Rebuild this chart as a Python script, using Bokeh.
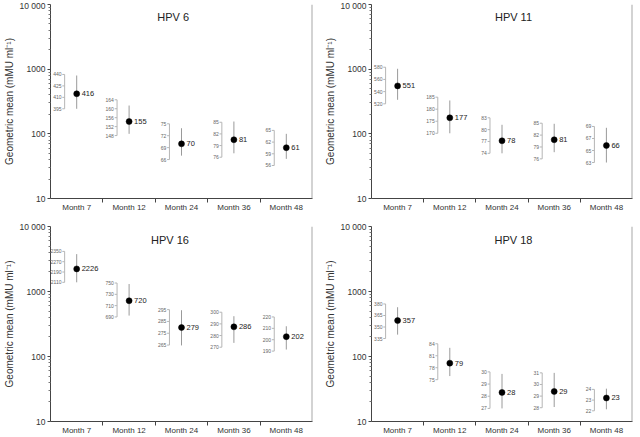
import numpy as np
from bokeh.plotting import figure
from bokeh.layouts import row, column
from bokeh.models import FixedTicker, Label, Span
from bokeh.embed import file_html
from bokeh.resources import INLINE
from bokeh.core.properties import value

FONT = "Liberation Sans"

months = ["Month 7", "Month 12", "Month 24", "Month 36", "Month 48"]
y_ticks = [10, 100, 1000, 10000]
y_tick_labels = ["10", "100", "1000", "10 000"]
y_label = "Geometric mean (mMU ml\u207b\u00b9)"

# HPV 6
hpv6_gmt = [416, 155, 70, 81, 61]
hpv6_low = [244, 100, 46, 50, 41]
hpv6_high = [798, 274, 122, 155, 100]
hpv6_scale_top = [828, 336, 143, 151, 113]
hpv6_scale_bottom = [244, 94, 40, 43.5, 32.4]
hpv6_scale_labels = [[440, 425, 410, 395], [164, 160, 156, 152, 148],
                     [75, 72, 69, 66], [85, 82, 79, 76], [65, 62, 59, 56]]

# HPV 11
hpv11_gmt = [551, 177, 78, 81, 66]
hpv11_low = [336, 102, 50, 52, 36]
hpv11_high = [1014, 328, 138, 143, 124]
hpv11_scale_top = [1072, 369, 177, 146, 130]
hpv11_scale_bottom = [291, 102, 50, 41, 36]
hpv11_scale_labels = [[580, 560, 540, 520], [185, 180, 175, 170],
                      [83, 80, 77, 74], [85, 82, 79, 76], [69, 67, 65, 63]]

# HPV 16
hpv16_gmt = [2226, 720, 279, 286, 202]
hpv16_low = [1384, 426, 148, 162, 128]
hpv16_high = [3758, 1303, 515, 417, 292]
hpv16_scale_top = [4140, 1350, 526, 480, 406]
hpv16_scale_bottom = [1384, 406, 150, 139, 121]
hpv16_scale_labels = [[2350, 2270, 2190, 2110], [750, 730, 710, 690],
                      [295, 285, 275, 265], [300, 290, 280, 270], [220, 210, 200, 190]]

# HPV 18
hpv18_gmt = [357, 79, 28, 29, 23]
hpv18_low = [217, 50, 15.9, 16.7, 15.4]
hpv18_high = [573, 136, 54, 56, 32]
hpv18_scale_top = [643, 157, 58, 56, 31.2]
hpv18_scale_bottom = [189, 44, 15.9, 16.3, 14.6]
hpv18_scale_labels = [[380, 365, 350, 335], [84, 81, 78, 75],
                      [30, 29, 28, 27], [31, 30, 29, 28], [24, 23, 22]]


def make_panel(title, gmt, low, high, s_top, s_bot, s_labels,
               width, height, bl, br, bt, bb, title_x):
    n = len(months)
    p = figure(width=width, height=height, y_axis_type="log",
               x_range=(0, n), y_range=(y_ticks[0], y_ticks[-1]),
               output_backend="svg", toolbar_location=None,
               min_border_left=bl, min_border_right=br,
               min_border_top=bt, min_border_bottom=bb)
    p.outline_line_color = None
    p.grid.visible = False
    p.background_fill_color = "white"

    xs = np.arange(n) + 0.5
    rx = xs - 0.23

    # mini scales
    p.segment(rx, s_bot, rx, s_top, line_color="#b5b5b5", line_width=1)
    tx, ty, tt = [], [], []
    for i in range(n):
        pos = np.geomspace(s_top[i], s_bot[i], len(s_labels[i]))
        for v, lab in zip(pos, s_labels[i]):
            tx.append(rx[i]); ty.append(v); tt.append(str(lab))
    tx = np.array(tx)
    p.segment(tx - 0.045, ty, tx, ty, line_color="#b5b5b5", line_width=1)
    p.text(tx - 0.06, ty, text=tt, text_align="right", text_baseline="middle",
           text_font_size="5px", text_color="#666666", text_font=value(FONT))

    # error bars
    p.segment(xs, low, xs, high, line_color="#9a9a9a", line_width=1)
    # points
    p.scatter(xs, gmt, size=6, color="black", line_width=0.5)
    p.text(xs, gmt, text=[str(v) for v in gmt], x_offset=5,
           text_baseline="middle", text_font_size="7.5px",
           text_color="#222222", text_font=value(FONT))

    p.add_layout(Label(x=title_x, y=6300, text=title, text_align="center",
                       text_baseline="middle", text_font_size="11px",
                       text_color="#222222", text_font=FONT))
    p.add_layout(Span(location=n, dimension="height", line_color="#a8a8a8",
                      line_width=2))

    xa = p.xaxis[0]
    xa.ticker = FixedTicker(ticks=list(xs), minor_ticks=list(range(1, n)))
    xa.major_label_overrides = {float(x): m for x, m in zip(xs, months)}
    xa.major_tick_out = 0
    xa.major_tick_in = 0
    xa.minor_tick_out = 4
    xa.minor_tick_in = 0
    xa.minor_tick_line_color = "#444444"
    xa.major_label_standoff = 0
    xa.axis_label_standoff = 0
    xa.major_label_text_font_size = "8px"
    xa.major_label_text_font = FONT
    xa.major_label_text_color = "#333333"
    xa.axis_line_color = "#444444"

    ya = p.yaxis[0]
    ya.ticker = FixedTicker(ticks=y_ticks,
                            minor_ticks=[k * 10 ** e for e in (1, 2, 3) for k in range(2, 10)])
    ya.major_label_overrides = {t: l for t, l in zip(y_ticks, y_tick_labels)}
    ya.major_tick_out = 3
    ya.major_tick_in = 0
    ya.minor_tick_out = 2
    ya.minor_tick_in = 0
    ya.major_tick_line_color = "#444444"
    ya.minor_tick_line_color = "#777777"
    ya.axis_line_color = "#444444"
    ya.major_label_standoff = 2
    ya.major_label_text_font_size = "8.5px"
    ya.major_label_text_font = FONT
    ya.major_label_text_color = "#333333"
    ya.axis_label = y_label
    ya.axis_label_text_font_size = "10px"
    ya.axis_label_text_font_style = "normal"
    ya.axis_label_text_font = FONT
    ya.axis_label_text_color = "#333333"
    ya.axis_label_standoff = 2
    return p


p1 = make_panel("HPV 6", hpv6_gmt, hpv6_low, hpv6_high, hpv6_scale_top,
                hpv6_scale_bottom, hpv6_scale_labels, 320, 218, 45, 8, 4, 20, 2.34)
p2 = make_panel("HPV 11", hpv11_gmt, hpv11_low, hpv11_high, hpv11_scale_top,
                hpv11_scale_bottom, hpv11_scale_labels, 320, 218, 51, 8, 4, 20, 2.72)
p3 = make_panel("HPV 16", hpv16_gmt, hpv16_low, hpv16_high, hpv16_scale_top,
                hpv16_scale_bottom, hpv16_scale_labels, 320, 219, 45, 8, 8, 15, 2.28)
p4 = make_panel("HPV 18", hpv18_gmt, hpv18_low, hpv18_high, hpv18_scale_top,
                hpv18_scale_bottom, hpv18_scale_labels, 320, 219, 51, 8, 8, 15, 2.72)

layout = column(row(p1, p2), row(p3, p4))

with open("out.html", "w") as f:
    f.write(file_html(layout, INLINE))
